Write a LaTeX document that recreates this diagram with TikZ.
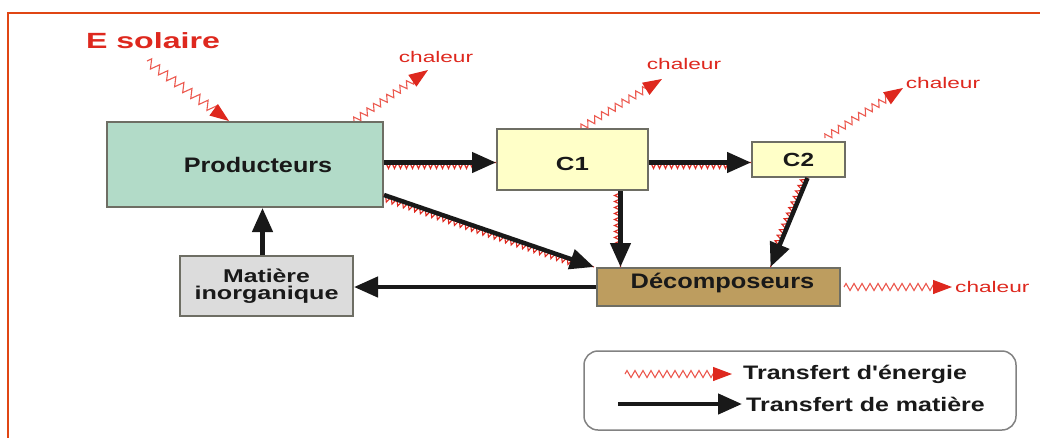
\documentclass[tikz,border=0pt]{standalone}
\usepackage{fontspec}
\setmainfont{Liberation Sans}
\usetikzlibrary{arrows.meta,decorations.pathmorphing}
\definecolor{frameor}{RGB}{224,70,20}
\definecolor{ered}{RGB}{222,40,30}
\definecolor{ezig}{RGB}{236,90,80}
\definecolor{prodfill}{RGB}{178,219,200}
\definecolor{cfill}{RGB}{255,255,200}
\definecolor{decfill}{RGB}{189,157,95}
\definecolor{matfill}{RGB}{220,220,220}
\definecolor{boxline}{RGB}{110,110,100}
\definecolor{legline}{RGB}{130,130,130}
\definecolor{txt}{RGB}{25,25,25}
\newcommand\sx[2]{\scalebox{#1}[1]{#2}}
\begin{document}
\begin{tikzpicture}[x=1pt,y=-1pt,
  box/.style={draw=boxline, line width=2pt, inner sep=0pt, text=txt,
    font=\bfseries\fontsize{21}{21}\selectfont},
  redtxt/.style={text=ered, inner sep=0pt, font=\fontsize{15.4}{15.4}\selectfont},
  legtxt/.style={text=txt, inner sep=0pt, anchor=west, font=\bfseries\fontsize{19.5}{19.5}\selectfont},
  energy/.style={draw=ezig, line width=1.1pt, decorate,
    decoration={zigzag, segment length=8pt, amplitude=3.5pt, post=lineto, post length=12pt},
    -{Triangle[length=19pt,width=14pt,color=ered]}},
  mzig/.style={draw=ered, line width=1.1pt, decorate,
    decoration={zigzag, segment length=6pt, amplitude=3.2pt, raise=-2.8pt, post=lineto, post length=22pt}},
  matter/.style={draw=txt, line width=4.5pt, -{Triangle[length=24pt,width=20pt]}}
]
\useasboundingbox (0,0) rectangle (1040,437);
\fill[white] (0,0) rectangle (1040,437);
% frame
\draw[frameor, line width=2pt] (1041,12.5) -- (8,12.5) -- (8,438);

% boxes
\node[box, fill=prodfill, minimum width=276pt, minimum height=85pt] (prod) at (245,164.5)
  {\hspace*{26pt}\sx{1.2}{Producteurs}};
\node[box, fill=cfill, minimum width=151pt, minimum height=61pt] (c1) at (572.5,159.5)
  {\raisebox{-4pt}[\height][\depth]{\fontsize{19}{19}\selectfont\sx{1.36}{C1}}};
\node[box, fill=cfill, minimum width=93pt, minimum height=35pt] (c2) at (798.5,159.5)
  {\fontsize{19}{19}\selectfont\sx{1.28}{C2}};
\node[box, fill=decfill, minimum width=243pt, minimum height=38pt] (dec) at (718.5,287)
  {\raisebox{4pt}[\height][\depth]{\hspace*{8pt}\sx{1.21}{Décomposeurs}}};
\node[box, fill=matfill, minimum width=173pt, minimum height=60pt, align=center,
  font=\bfseries\fontsize{18.5}{17}\selectfont] (mat) at (266.5,286)
  {\sx{1.34}{Matière}\\\sx{1.36}{inorganique}};

% E solaire
\node[text=ered, inner sep=0pt, font=\bfseries\fontsize{22}{22}\selectfont] (esol) at (153,41)
  {\sx{1.46}{E solaire}};
\coordinate (sun) at (147,61);
\draw[energy, decoration={amplitude=4.5pt, segment length=10pt}] (sun) -- ([xshift=123pt]prod.north west);

% chaleur labels
\node[redtxt] (ch1) at (436,57) {\sx{1.47}{chaleur}};
\node[redtxt] (ch2) at (684,64) {\sx{1.47}{chaleur}};
\node[redtxt] (ch3) at (943,83) {\sx{1.47}{chaleur}};
\node[redtxt, anchor=west, inner sep=3pt] (ch4) at (952,287) {\sx{1.47}{chaleur}};
\coordinate (h1) at (428,70);
\coordinate (h2) at (662,79);
\coordinate (h3) at (903,88);

\draw[energy] ([xshift=248pt]prod.north west) -- (h1);
\draw[energy] ([xshift=85pt]c1.north west) -- (h2);
\draw[energy] ([xshift=74pt,yshift=3pt]c2.north west) -- (h3);
\draw[energy] ([xshift=3pt]dec.east) -- (ch4.west);

% matter + energy transfers
\draw[mzig] ([yshift=-3pt]prod.east |- c1.west) -- ([yshift=-3pt]c1.west);
\draw[matter] ([yshift=-3pt]prod.east |- c1.west) -- ([yshift=-3pt]c1.west);
\draw[mzig] ([yshift=-3pt]c1.east |- c2.west) -- ([yshift=-3pt]c2.west);
\draw[matter] ([yshift=-3pt]c1.east |- c2.west) -- ([yshift=-3pt]c2.west);
\draw[mzig] ([yshift=13pt]prod.south east) -- ([xshift=-2pt]dec.north west);
\draw[matter] ([yshift=13pt]prod.south east) -- ([xshift=-2pt]dec.north west);
\draw[mzig] ([xshift=48pt]c1.south) -- ([xshift=48pt]c1.south |- dec.north);
\draw[matter] ([xshift=48pt]c1.south) -- ([xshift=48pt]c1.south |- dec.north);
\draw[mzig] ([xshift=9pt]c2.south) -- ([xshift=52pt]dec.north);
\draw[matter] ([xshift=9pt]c2.south) -- ([xshift=52pt]dec.north);

% matter only
\draw[matter] (dec.west) -- (mat.east |- dec.west);
\draw[matter] ([xshift=-4pt]mat.north) -- ([xshift=-4pt]mat.north |- prod.south);

% legend
\node[draw=legline, line width=1.5pt, rounded corners=14pt, minimum width=432pt,
  minimum height=79pt] (legend) at (800,390.5) {};
\node[legtxt] (lt1) at (743,374) {\sx{1.28}{Transfert d\textquotesingle énergie}};
\node[legtxt] (lt2) at (746,404) {\sx{1.28}{Transfert de matière}};
\coordinate (le1) at (625,374);
\coordinate (le2) at (618,404);
\draw[energy] (le1) -- ([xshift=-11pt]lt1.west);
\draw[matter] (le2) -- ([xshift=-4pt]lt2.west);
\end{tikzpicture}
\end{document}
